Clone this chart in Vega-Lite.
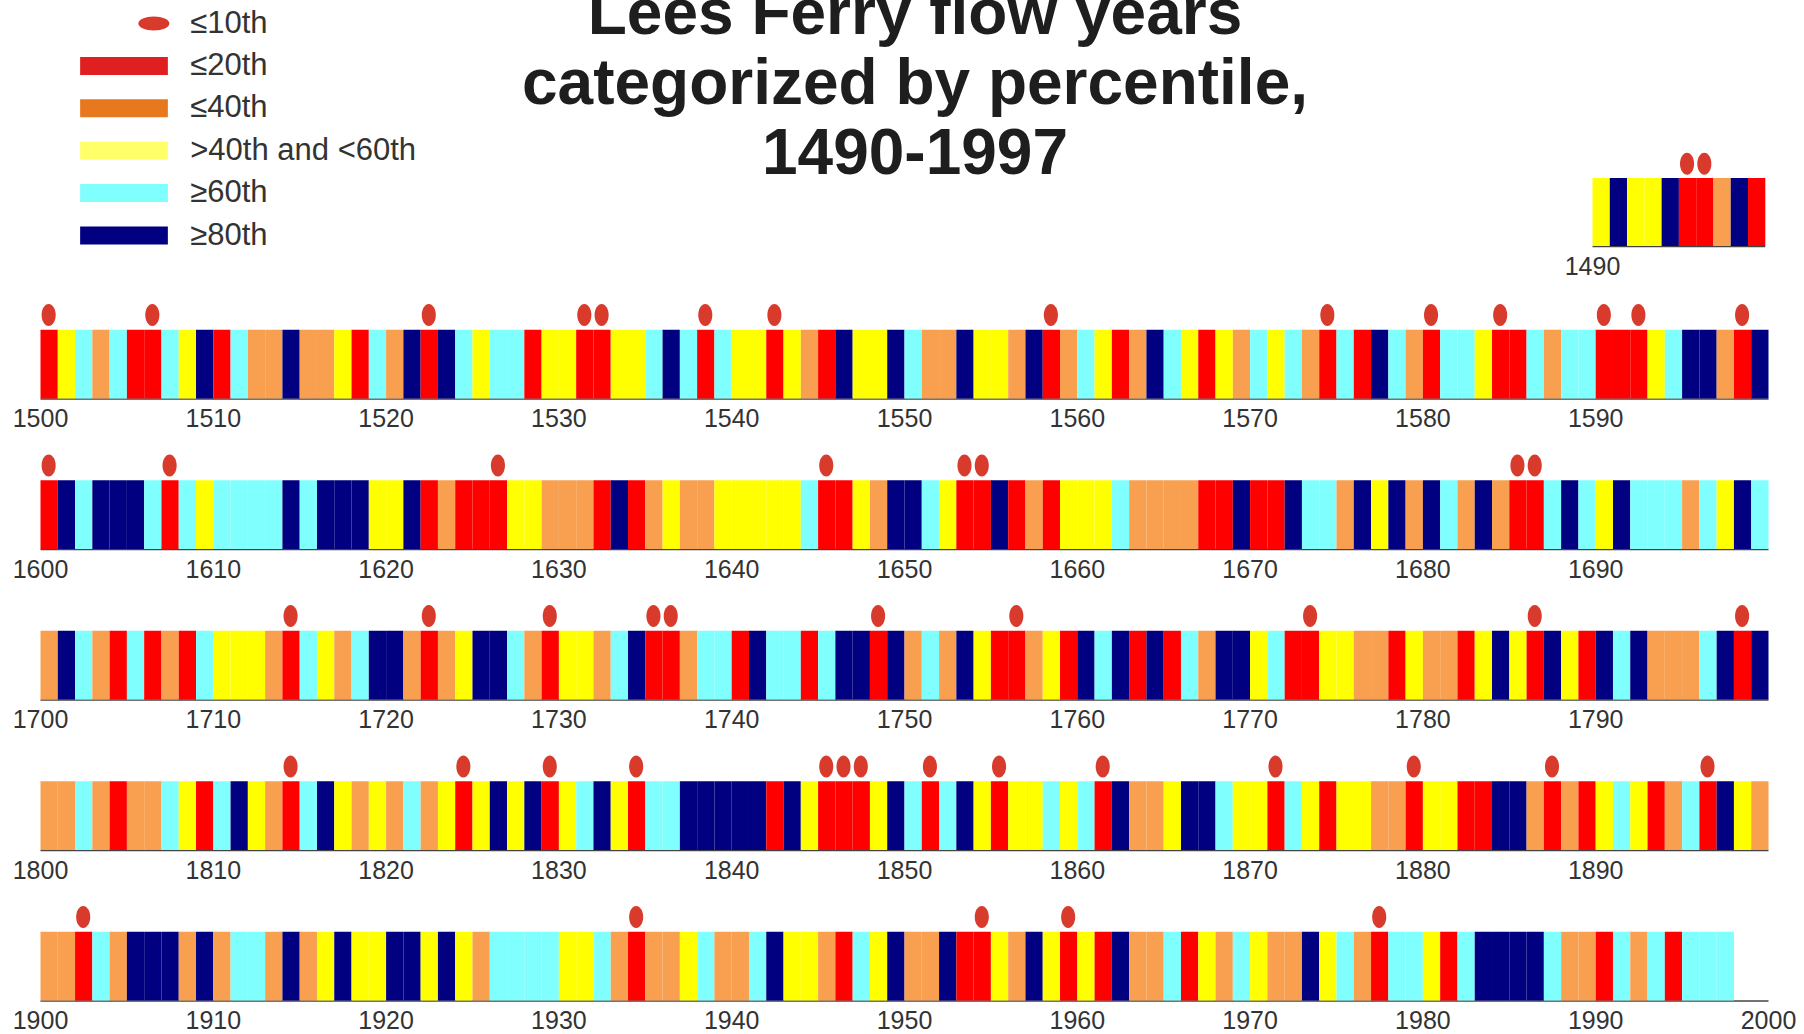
{
  "$schema": "https://vega.github.io/schema/vega-lite/v6.json",
  "padding": {"left": 12, "top": -17, "right": 0, "bottom": 0},
  "background": "white",
  "title": {
    "text": ["Lees Ferry flow years", "categorized by percentile,", "1490-1997"],
    "anchor": "middle",
    "frame": "bounds",
    "offset": -190,
    "dx": 11,
    "font": "Liberation Sans",
    "fontSize": 64,
    "fontWeight": "bold",
    "color": "#1e1e1e",
    "lineHeight": 70
  },
  "config": {
    "view": {"stroke": null},
    "axis": {
      "labelFont": "Liberation Sans",
      "labelFontSize": 25,
      "labelColor": "#333333",
      "domainColor": "#444444",
      "domainWidth": 1.5,
      "ticks": false,
      "grid": false,
      "labelFlush": false,
      "labelOverlap": false,
      "labelPadding": 8
    }
  },
  "datasets": {
    "flows": [
      {"year":1490,"category":">40th and <60th"},{"year":1491,"category":"≥80th"},{"year":1492,"category":">40th and <60th"},{"year":1493,"category":">40th and <60th"},{"year":1494,"category":"≥80th"},{"year":1495,"category":"≤10th"},{"year":1496,"category":"≤10th"},{"year":1497,"category":"≤40th"},{"year":1498,"category":"≥80th"},{"year":1499,"category":"≤20th"},
      {"year":1500,"category":"≤10th"},{"year":1501,"category":">40th and <60th"},{"year":1502,"category":"≥60th"},{"year":1503,"category":"≤40th"},{"year":1504,"category":"≥60th"},{"year":1505,"category":"≤20th"},{"year":1506,"category":"≤10th"},{"year":1507,"category":"≥60th"},{"year":1508,"category":">40th and <60th"},{"year":1509,"category":"≥80th"},
      {"year":1510,"category":"≤20th"},{"year":1511,"category":"≥60th"},{"year":1512,"category":"≤40th"},{"year":1513,"category":"≤40th"},{"year":1514,"category":"≥80th"},{"year":1515,"category":"≤40th"},{"year":1516,"category":"≤40th"},{"year":1517,"category":">40th and <60th"},{"year":1518,"category":"≤20th"},{"year":1519,"category":"≥60th"},
      {"year":1520,"category":"≤40th"},{"year":1521,"category":"≥80th"},{"year":1522,"category":"≤10th"},{"year":1523,"category":"≥80th"},{"year":1524,"category":"≥60th"},{"year":1525,"category":">40th and <60th"},{"year":1526,"category":"≥60th"},{"year":1527,"category":"≥60th"},{"year":1528,"category":"≤20th"},{"year":1529,"category":">40th and <60th"},
      {"year":1530,"category":">40th and <60th"},{"year":1531,"category":"≤10th"},{"year":1532,"category":"≤10th"},{"year":1533,"category":">40th and <60th"},{"year":1534,"category":">40th and <60th"},{"year":1535,"category":"≥60th"},{"year":1536,"category":"≥80th"},{"year":1537,"category":"≥60th"},{"year":1538,"category":"≤10th"},{"year":1539,"category":"≥60th"},
      {"year":1540,"category":">40th and <60th"},{"year":1541,"category":">40th and <60th"},{"year":1542,"category":"≤10th"},{"year":1543,"category":">40th and <60th"},{"year":1544,"category":"≤40th"},{"year":1545,"category":"≤20th"},{"year":1546,"category":"≥80th"},{"year":1547,"category":">40th and <60th"},{"year":1548,"category":">40th and <60th"},{"year":1549,"category":"≥80th"},
      {"year":1550,"category":"≥60th"},{"year":1551,"category":"≤40th"},{"year":1552,"category":"≤40th"},{"year":1553,"category":"≥80th"},{"year":1554,"category":">40th and <60th"},{"year":1555,"category":">40th and <60th"},{"year":1556,"category":"≤40th"},{"year":1557,"category":"≥80th"},{"year":1558,"category":"≤10th"},{"year":1559,"category":"≤40th"},
      {"year":1560,"category":"≥60th"},{"year":1561,"category":">40th and <60th"},{"year":1562,"category":"≤20th"},{"year":1563,"category":"≤40th"},{"year":1564,"category":"≥80th"},{"year":1565,"category":"≥60th"},{"year":1566,"category":">40th and <60th"},{"year":1567,"category":"≤20th"},{"year":1568,"category":">40th and <60th"},{"year":1569,"category":"≤40th"},
      {"year":1570,"category":"≥60th"},{"year":1571,"category":">40th and <60th"},{"year":1572,"category":"≥60th"},{"year":1573,"category":"≤40th"},{"year":1574,"category":"≤10th"},{"year":1575,"category":"≥60th"},{"year":1576,"category":"≤20th"},{"year":1577,"category":"≥80th"},{"year":1578,"category":"≥60th"},{"year":1579,"category":"≤40th"},
      {"year":1580,"category":"≤10th"},{"year":1581,"category":"≥60th"},{"year":1582,"category":"≥60th"},{"year":1583,"category":">40th and <60th"},{"year":1584,"category":"≤10th"},{"year":1585,"category":"≤20th"},{"year":1586,"category":"≥60th"},{"year":1587,"category":"≤40th"},{"year":1588,"category":"≥60th"},{"year":1589,"category":"≥60th"},
      {"year":1590,"category":"≤10th"},{"year":1591,"category":"≤20th"},{"year":1592,"category":"≤10th"},{"year":1593,"category":">40th and <60th"},{"year":1594,"category":"≥60th"},{"year":1595,"category":"≥80th"},{"year":1596,"category":"≥80th"},{"year":1597,"category":"≤40th"},{"year":1598,"category":"≤10th"},{"year":1599,"category":"≥80th"},
      {"year":1600,"category":"≤10th"},{"year":1601,"category":"≥80th"},{"year":1602,"category":"≥60th"},{"year":1603,"category":"≥80th"},{"year":1604,"category":"≥80th"},{"year":1605,"category":"≥80th"},{"year":1606,"category":"≥60th"},{"year":1607,"category":"≤10th"},{"year":1608,"category":"≥60th"},{"year":1609,"category":">40th and <60th"},
      {"year":1610,"category":"≥60th"},{"year":1611,"category":"≥60th"},{"year":1612,"category":"≥60th"},{"year":1613,"category":"≥60th"},{"year":1614,"category":"≥80th"},{"year":1615,"category":"≥60th"},{"year":1616,"category":"≥80th"},{"year":1617,"category":"≥80th"},{"year":1618,"category":"≥80th"},{"year":1619,"category":">40th and <60th"},
      {"year":1620,"category":">40th and <60th"},{"year":1621,"category":"≥80th"},{"year":1622,"category":"≤20th"},{"year":1623,"category":"≤40th"},{"year":1624,"category":"≤20th"},{"year":1625,"category":"≤20th"},{"year":1626,"category":"≤10th"},{"year":1627,"category":">40th and <60th"},{"year":1628,"category":">40th and <60th"},{"year":1629,"category":"≤40th"},
      {"year":1630,"category":"≤40th"},{"year":1631,"category":"≤40th"},{"year":1632,"category":"≤20th"},{"year":1633,"category":"≥80th"},{"year":1634,"category":"≤20th"},{"year":1635,"category":"≤40th"},{"year":1636,"category":">40th and <60th"},{"year":1637,"category":"≤40th"},{"year":1638,"category":"≤40th"},{"year":1639,"category":">40th and <60th"},
      {"year":1640,"category":">40th and <60th"},{"year":1641,"category":">40th and <60th"},{"year":1642,"category":">40th and <60th"},{"year":1643,"category":">40th and <60th"},{"year":1644,"category":"≥60th"},{"year":1645,"category":"≤10th"},{"year":1646,"category":"≤20th"},{"year":1647,"category":">40th and <60th"},{"year":1648,"category":"≤40th"},{"year":1649,"category":"≥80th"},
      {"year":1650,"category":"≥80th"},{"year":1651,"category":"≥60th"},{"year":1652,"category":">40th and <60th"},{"year":1653,"category":"≤10th"},{"year":1654,"category":"≤10th"},{"year":1655,"category":"≥80th"},{"year":1656,"category":"≤20th"},{"year":1657,"category":"≤40th"},{"year":1658,"category":"≤20th"},{"year":1659,"category":">40th and <60th"},
      {"year":1660,"category":">40th and <60th"},{"year":1661,"category":">40th and <60th"},{"year":1662,"category":"≥60th"},{"year":1663,"category":"≤40th"},{"year":1664,"category":"≤40th"},{"year":1665,"category":"≤40th"},{"year":1666,"category":"≤40th"},{"year":1667,"category":"≤20th"},{"year":1668,"category":"≤20th"},{"year":1669,"category":"≥80th"},
      {"year":1670,"category":"≤20th"},{"year":1671,"category":"≤20th"},{"year":1672,"category":"≥80th"},{"year":1673,"category":"≥60th"},{"year":1674,"category":"≥60th"},{"year":1675,"category":"≤40th"},{"year":1676,"category":"≥80th"},{"year":1677,"category":">40th and <60th"},{"year":1678,"category":"≥80th"},{"year":1679,"category":"≤40th"},
      {"year":1680,"category":"≥80th"},{"year":1681,"category":"≥60th"},{"year":1682,"category":"≤40th"},{"year":1683,"category":"≥80th"},{"year":1684,"category":"≤40th"},{"year":1685,"category":"≤10th"},{"year":1686,"category":"≤10th"},{"year":1687,"category":"≥60th"},{"year":1688,"category":"≥80th"},{"year":1689,"category":"≥60th"},
      {"year":1690,"category":">40th and <60th"},{"year":1691,"category":"≥80th"},{"year":1692,"category":"≥60th"},{"year":1693,"category":"≥60th"},{"year":1694,"category":"≥60th"},{"year":1695,"category":"≤40th"},{"year":1696,"category":"≥60th"},{"year":1697,"category":">40th and <60th"},{"year":1698,"category":"≥80th"},{"year":1699,"category":"≥60th"},
      {"year":1700,"category":"≤40th"},{"year":1701,"category":"≥80th"},{"year":1702,"category":"≥60th"},{"year":1703,"category":"≤40th"},{"year":1704,"category":"≤20th"},{"year":1705,"category":"≥60th"},{"year":1706,"category":"≤20th"},{"year":1707,"category":"≤40th"},{"year":1708,"category":"≤20th"},{"year":1709,"category":"≥60th"},
      {"year":1710,"category":">40th and <60th"},{"year":1711,"category":">40th and <60th"},{"year":1712,"category":">40th and <60th"},{"year":1713,"category":"≤40th"},{"year":1714,"category":"≤10th"},{"year":1715,"category":"≥60th"},{"year":1716,"category":">40th and <60th"},{"year":1717,"category":"≤40th"},{"year":1718,"category":"≥60th"},{"year":1719,"category":"≥80th"},
      {"year":1720,"category":"≥80th"},{"year":1721,"category":"≤40th"},{"year":1722,"category":"≤10th"},{"year":1723,"category":"≤40th"},{"year":1724,"category":">40th and <60th"},{"year":1725,"category":"≥80th"},{"year":1726,"category":"≥80th"},{"year":1727,"category":"≥60th"},{"year":1728,"category":"≤40th"},{"year":1729,"category":"≤10th"},
      {"year":1730,"category":">40th and <60th"},{"year":1731,"category":">40th and <60th"},{"year":1732,"category":"≤40th"},{"year":1733,"category":"≥60th"},{"year":1734,"category":"≥80th"},{"year":1735,"category":"≤10th"},{"year":1736,"category":"≤10th"},{"year":1737,"category":"≤40th"},{"year":1738,"category":"≥60th"},{"year":1739,"category":"≥60th"},
      {"year":1740,"category":"≤20th"},{"year":1741,"category":"≥80th"},{"year":1742,"category":"≥60th"},{"year":1743,"category":"≥60th"},{"year":1744,"category":"≤20th"},{"year":1745,"category":"≥60th"},{"year":1746,"category":"≥80th"},{"year":1747,"category":"≥80th"},{"year":1748,"category":"≤10th"},{"year":1749,"category":"≥80th"},
      {"year":1750,"category":"≤40th"},{"year":1751,"category":"≥60th"},{"year":1752,"category":"≤40th"},{"year":1753,"category":"≥80th"},{"year":1754,"category":">40th and <60th"},{"year":1755,"category":"≤20th"},{"year":1756,"category":"≤10th"},{"year":1757,"category":"≤40th"},{"year":1758,"category":">40th and <60th"},{"year":1759,"category":"≤20th"},
      {"year":1760,"category":"≥80th"},{"year":1761,"category":"≥60th"},{"year":1762,"category":"≥80th"},{"year":1763,"category":"≤20th"},{"year":1764,"category":"≥80th"},{"year":1765,"category":"≤20th"},{"year":1766,"category":"≥60th"},{"year":1767,"category":"≤40th"},{"year":1768,"category":"≥80th"},{"year":1769,"category":"≥80th"},
      {"year":1770,"category":">40th and <60th"},{"year":1771,"category":"≥60th"},{"year":1772,"category":"≤20th"},{"year":1773,"category":"≤10th"},{"year":1774,"category":">40th and <60th"},{"year":1775,"category":">40th and <60th"},{"year":1776,"category":"≤40th"},{"year":1777,"category":"≤40th"},{"year":1778,"category":"≤20th"},{"year":1779,"category":">40th and <60th"},
      {"year":1780,"category":"≤40th"},{"year":1781,"category":"≤40th"},{"year":1782,"category":"≤20th"},{"year":1783,"category":">40th and <60th"},{"year":1784,"category":"≥80th"},{"year":1785,"category":">40th and <60th"},{"year":1786,"category":"≤10th"},{"year":1787,"category":"≥80th"},{"year":1788,"category":">40th and <60th"},{"year":1789,"category":"≤20th"},
      {"year":1790,"category":"≥80th"},{"year":1791,"category":"≥60th"},{"year":1792,"category":"≥80th"},{"year":1793,"category":"≤40th"},{"year":1794,"category":"≤40th"},{"year":1795,"category":"≤40th"},{"year":1796,"category":"≥60th"},{"year":1797,"category":"≥80th"},{"year":1798,"category":"≤10th"},{"year":1799,"category":"≥80th"},
      {"year":1800,"category":"≤40th"},{"year":1801,"category":"≤40th"},{"year":1802,"category":"≥60th"},{"year":1803,"category":"≤40th"},{"year":1804,"category":"≤20th"},{"year":1805,"category":"≤40th"},{"year":1806,"category":"≤40th"},{"year":1807,"category":"≥60th"},{"year":1808,"category":">40th and <60th"},{"year":1809,"category":"≤20th"},
      {"year":1810,"category":"≥60th"},{"year":1811,"category":"≥80th"},{"year":1812,"category":">40th and <60th"},{"year":1813,"category":"≤40th"},{"year":1814,"category":"≤10th"},{"year":1815,"category":"≥60th"},{"year":1816,"category":"≥80th"},{"year":1817,"category":">40th and <60th"},{"year":1818,"category":"≤40th"},{"year":1819,"category":">40th and <60th"},
      {"year":1820,"category":"≤40th"},{"year":1821,"category":"≥60th"},{"year":1822,"category":"≤40th"},{"year":1823,"category":">40th and <60th"},{"year":1824,"category":"≤10th"},{"year":1825,"category":">40th and <60th"},{"year":1826,"category":"≥80th"},{"year":1827,"category":">40th and <60th"},{"year":1828,"category":"≥80th"},{"year":1829,"category":"≤10th"},
      {"year":1830,"category":">40th and <60th"},{"year":1831,"category":"≥60th"},{"year":1832,"category":"≥80th"},{"year":1833,"category":">40th and <60th"},{"year":1834,"category":"≤10th"},{"year":1835,"category":"≥60th"},{"year":1836,"category":"≥60th"},{"year":1837,"category":"≥80th"},{"year":1838,"category":"≥80th"},{"year":1839,"category":"≥80th"},
      {"year":1840,"category":"≥80th"},{"year":1841,"category":"≥80th"},{"year":1842,"category":"≤20th"},{"year":1843,"category":"≥80th"},{"year":1844,"category":">40th and <60th"},{"year":1845,"category":"≤10th"},{"year":1846,"category":"≤10th"},{"year":1847,"category":"≤10th"},{"year":1848,"category":">40th and <60th"},{"year":1849,"category":"≥80th"},
      {"year":1850,"category":"≥60th"},{"year":1851,"category":"≤10th"},{"year":1852,"category":"≥60th"},{"year":1853,"category":"≥80th"},{"year":1854,"category":">40th and <60th"},{"year":1855,"category":"≤10th"},{"year":1856,"category":">40th and <60th"},{"year":1857,"category":">40th and <60th"},{"year":1858,"category":"≥60th"},{"year":1859,"category":">40th and <60th"},
      {"year":1860,"category":"≥60th"},{"year":1861,"category":"≤10th"},{"year":1862,"category":"≥80th"},{"year":1863,"category":"≤40th"},{"year":1864,"category":"≤40th"},{"year":1865,"category":">40th and <60th"},{"year":1866,"category":"≥80th"},{"year":1867,"category":"≥80th"},{"year":1868,"category":"≥60th"},{"year":1869,"category":">40th and <60th"},
      {"year":1870,"category":">40th and <60th"},{"year":1871,"category":"≤10th"},{"year":1872,"category":"≥60th"},{"year":1873,"category":">40th and <60th"},{"year":1874,"category":"≤20th"},{"year":1875,"category":">40th and <60th"},{"year":1876,"category":">40th and <60th"},{"year":1877,"category":"≤40th"},{"year":1878,"category":"≤40th"},{"year":1879,"category":"≤10th"},
      {"year":1880,"category":">40th and <60th"},{"year":1881,"category":">40th and <60th"},{"year":1882,"category":"≤20th"},{"year":1883,"category":"≤20th"},{"year":1884,"category":"≥80th"},{"year":1885,"category":"≥80th"},{"year":1886,"category":"≤40th"},{"year":1887,"category":"≤10th"},{"year":1888,"category":"≤40th"},{"year":1889,"category":"≤20th"},
      {"year":1890,"category":">40th and <60th"},{"year":1891,"category":"≥60th"},{"year":1892,"category":">40th and <60th"},{"year":1893,"category":"≤20th"},{"year":1894,"category":"≤40th"},{"year":1895,"category":"≥60th"},{"year":1896,"category":"≤10th"},{"year":1897,"category":"≥80th"},{"year":1898,"category":">40th and <60th"},{"year":1899,"category":"≤40th"},
      {"year":1900,"category":"≤40th"},{"year":1901,"category":"≤40th"},{"year":1902,"category":"≤10th"},{"year":1903,"category":"≥60th"},{"year":1904,"category":"≤40th"},{"year":1905,"category":"≥80th"},{"year":1906,"category":"≥80th"},{"year":1907,"category":"≥80th"},{"year":1908,"category":"≤40th"},{"year":1909,"category":"≥80th"},
      {"year":1910,"category":"≤40th"},{"year":1911,"category":"≥60th"},{"year":1912,"category":"≥60th"},{"year":1913,"category":"≤40th"},{"year":1914,"category":"≥80th"},{"year":1915,"category":"≤40th"},{"year":1916,"category":">40th and <60th"},{"year":1917,"category":"≥80th"},{"year":1918,"category":">40th and <60th"},{"year":1919,"category":">40th and <60th"},
      {"year":1920,"category":"≥80th"},{"year":1921,"category":"≥80th"},{"year":1922,"category":">40th and <60th"},{"year":1923,"category":"≥80th"},{"year":1924,"category":">40th and <60th"},{"year":1925,"category":"≤40th"},{"year":1926,"category":"≥60th"},{"year":1927,"category":"≥60th"},{"year":1928,"category":"≥60th"},{"year":1929,"category":"≥60th"},
      {"year":1930,"category":">40th and <60th"},{"year":1931,"category":">40th and <60th"},{"year":1932,"category":"≥60th"},{"year":1933,"category":"≤40th"},{"year":1934,"category":"≤10th"},{"year":1935,"category":"≤40th"},{"year":1936,"category":"≤40th"},{"year":1937,"category":">40th and <60th"},{"year":1938,"category":"≥60th"},{"year":1939,"category":"≤40th"},
      {"year":1940,"category":"≤40th"},{"year":1941,"category":"≥60th"},{"year":1942,"category":"≥80th"},{"year":1943,"category":">40th and <60th"},{"year":1944,"category":">40th and <60th"},{"year":1945,"category":"≤40th"},{"year":1946,"category":"≤20th"},{"year":1947,"category":"≥60th"},{"year":1948,"category":">40th and <60th"},{"year":1949,"category":"≥80th"},
      {"year":1950,"category":"≤40th"},{"year":1951,"category":"≤40th"},{"year":1952,"category":"≥80th"},{"year":1953,"category":"≤20th"},{"year":1954,"category":"≤10th"},{"year":1955,"category":">40th and <60th"},{"year":1956,"category":"≤40th"},{"year":1957,"category":"≥80th"},{"year":1958,"category":">40th and <60th"},{"year":1959,"category":"≤10th"},
      {"year":1960,"category":">40th and <60th"},{"year":1961,"category":"≤20th"},{"year":1962,"category":"≥80th"},{"year":1963,"category":"≤40th"},{"year":1964,"category":"≤40th"},{"year":1965,"category":"≥60th"},{"year":1966,"category":"≤20th"},{"year":1967,"category":">40th and <60th"},{"year":1968,"category":"≤40th"},{"year":1969,"category":"≥60th"},
      {"year":1970,"category":">40th and <60th"},{"year":1971,"category":"≤40th"},{"year":1972,"category":"≤40th"},{"year":1973,"category":"≥80th"},{"year":1974,"category":">40th and <60th"},{"year":1975,"category":"≥60th"},{"year":1976,"category":"≤40th"},{"year":1977,"category":"≤10th"},{"year":1978,"category":"≥60th"},{"year":1979,"category":"≥60th"},
      {"year":1980,"category":">40th and <60th"},{"year":1981,"category":"≤20th"},{"year":1982,"category":"≥60th"},{"year":1983,"category":"≥80th"},{"year":1984,"category":"≥80th"},{"year":1985,"category":"≥80th"},{"year":1986,"category":"≥80th"},{"year":1987,"category":"≥60th"},{"year":1988,"category":"≤40th"},{"year":1989,"category":"≤40th"},
      {"year":1990,"category":"≤20th"},{"year":1991,"category":"≥60th"},{"year":1992,"category":"≤40th"},{"year":1993,"category":"≥60th"},{"year":1994,"category":"≤20th"},{"year":1995,"category":"≥60th"},{"year":1996,"category":"≥60th"},{"year":1997,"category":"≥60th"}
    ]
  },
  "data": {"name": "flows"},
  "resolve": {"scale": {"color": "independent"}},
  "spacing": 20.5,
  "vconcat": [
    {
      "spacing": 1104,
      "resolve": {"scale": {"color": "independent"}},
      "hconcat": [
        {
          "width": 420,
          "height": 284,
          "transform": [{"aggregate": [{"op": "count", "as": "n"}], "groupby": ["category"]}],
          "encoding": {
            "y": {"field": "category", "type": "nominal", "scale": {"domain": ["≤10th", "≤20th", "≤40th", ">40th and <60th", "≥60th", "≥80th"], "range": [5.3, 259.7]}, "axis": null}
          },
          "layer": [
            {
              "transform": [{"filter": "datum.category !== '≤10th'"}],
              "mark": {"type": "rule", "strokeWidth": 18, "strokeCap": "butt"},
              "encoding": {
                "x": {"datum": 43, "type": "quantitative", "scale": {"domain": [0, 420]}, "axis": null},
                "x2": {"datum": 137},
                "color": {"field": "category", "type": "nominal", "scale": {"domain": ["≤10th", "≤20th", "≤40th", ">40th and <60th", "≥60th", "≥80th"], "range": ["#e02020", "#e02020", "#e8781e", "#ffff6a", "#80ffff", "#000080"]}, "legend": null}
              }
            },
            {
              "transform": [{"filter": "datum.category === '≤10th'"}],
              "mark": {"type": "point", "shape": "M-1,0A1,0.45 0 1,0 1,0A1,0.45 0 1,0 -1,0Z", "filled": true, "size": 961, "color": "#d83a2c", "opacity": 1},
              "encoding": {"x": {"datum": 122, "type": "quantitative"}}
            },
            {
              "mark": {"type": "text", "align": "left", "baseline": "middle", "font": "Liberation Sans", "fontSize": 31, "color": "#333333"},
              "encoding": {"x": {"datum": 161, "type": "quantitative"}, "text": {"field": "category"}}
            }
          ]
        },
        {
          "width": 172.8,
          "height": 249,
          "transform": [{"filter": "datum.year >= 1490 && datum.year < 1500"}],
          "layer": [
            {
              "mark": {"type": "bar", "binSpacing": 0},
              "encoding": {
                "x": {"field": "year", "type": "quantitative", "bin": {"step": 1, "extent": [1490, 1500]}, "scale": {"domain": [1490, 1500]}, "title": null, "axis": {"values": [1490], "format": "d"}},
                "y": {"datum": 0, "type": "quantitative", "scale": {"domain": [0, 249]}, "axis": null},
                "y2": {"datum": 71},
                "color": {"field": "category", "type": "nominal", "scale": {"domain": ["≤10th", "≤20th", "≤40th", ">40th and <60th", "≥60th", "≥80th"], "range": ["#ff0000", "#ff0000", "#f8a050", "#ffff00", "#80ffff", "#000080"]}, "legend": null}
              }
            },
            {
              "transform": [{"filter": "datum.category === '≤10th'"}],
              "mark": {"type": "point", "shape": "M-0.64,0A0.64,1 0 1,0 0.64,0A0.64,1 0 1,0 -0.64,0Z", "filled": true, "size": 484, "color": "#d83a2c", "opacity": 1},
              "encoding": {
                "x": {"field": "year", "type": "quantitative", "bin": {"step": 1, "extent": [1490, 1500]}},
                "y": {"datum": 86, "type": "quantitative"}
              }
            }
          ]
        }
      ]
    },
    {
      "width": 1728,
      "height": 97,
      "transform": [{"filter": "datum.year >= 1500 && datum.year < 1600"}],
      "layer": [
        {
          "mark": {"type": "bar", "binSpacing": 0},
          "encoding": {
            "x": {"field": "year", "type": "quantitative", "bin": {"step": 1, "extent": [1500, 1600]}, "scale": {"domain": [1500, 1600]}, "title": null, "axis": {"values": [1500, 1510, 1520, 1530, 1540, 1550, 1560, 1570, 1580, 1590], "format": "d"}},
            "y": {"datum": 0, "type": "quantitative", "scale": {"domain": [0, 97]}, "axis": null},
            "y2": {"datum": 71},
            "color": {"field": "category", "type": "nominal", "scale": {"domain": ["≤10th", "≤20th", "≤40th", ">40th and <60th", "≥60th", "≥80th"], "range": ["#ff0000", "#ff0000", "#f8a050", "#ffff00", "#80ffff", "#000080"]}, "legend": null}
          }
        },
        {
          "transform": [{"filter": "datum.category === '≤10th'"}],
          "mark": {"type": "point", "shape": "M-0.64,0A0.64,1 0 1,0 0.64,0A0.64,1 0 1,0 -0.64,0Z", "filled": true, "size": 484, "color": "#d83a2c", "opacity": 1},
          "encoding": {
            "x": {"field": "year", "type": "quantitative", "bin": {"step": 1, "extent": [1500, 1600]}},
            "y": {"datum": 86, "type": "quantitative"}
          }
        }
      ]
    },
    {
      "width": 1728,
      "height": 97,
      "transform": [{"filter": "datum.year >= 1600 && datum.year < 1700"}],
      "layer": [
        {
          "mark": {"type": "bar", "binSpacing": 0},
          "encoding": {
            "x": {"field": "year", "type": "quantitative", "bin": {"step": 1, "extent": [1600, 1700]}, "scale": {"domain": [1600, 1700]}, "title": null, "axis": {"values": [1600, 1610, 1620, 1630, 1640, 1650, 1660, 1670, 1680, 1690], "format": "d"}},
            "y": {"datum": 0, "type": "quantitative", "scale": {"domain": [0, 97]}, "axis": null},
            "y2": {"datum": 71},
            "color": {"field": "category", "type": "nominal", "scale": {"domain": ["≤10th", "≤20th", "≤40th", ">40th and <60th", "≥60th", "≥80th"], "range": ["#ff0000", "#ff0000", "#f8a050", "#ffff00", "#80ffff", "#000080"]}, "legend": null}
          }
        },
        {
          "transform": [{"filter": "datum.category === '≤10th'"}],
          "mark": {"type": "point", "shape": "M-0.64,0A0.64,1 0 1,0 0.64,0A0.64,1 0 1,0 -0.64,0Z", "filled": true, "size": 484, "color": "#d83a2c", "opacity": 1},
          "encoding": {
            "x": {"field": "year", "type": "quantitative", "bin": {"step": 1, "extent": [1600, 1700]}},
            "y": {"datum": 86, "type": "quantitative"}
          }
        }
      ]
    },
    {
      "width": 1728,
      "height": 97,
      "transform": [{"filter": "datum.year >= 1700 && datum.year < 1800"}],
      "layer": [
        {
          "mark": {"type": "bar", "binSpacing": 0},
          "encoding": {
            "x": {"field": "year", "type": "quantitative", "bin": {"step": 1, "extent": [1700, 1800]}, "scale": {"domain": [1700, 1800]}, "title": null, "axis": {"values": [1700, 1710, 1720, 1730, 1740, 1750, 1760, 1770, 1780, 1790], "format": "d"}},
            "y": {"datum": 0, "type": "quantitative", "scale": {"domain": [0, 97]}, "axis": null},
            "y2": {"datum": 71},
            "color": {"field": "category", "type": "nominal", "scale": {"domain": ["≤10th", "≤20th", "≤40th", ">40th and <60th", "≥60th", "≥80th"], "range": ["#ff0000", "#ff0000", "#f8a050", "#ffff00", "#80ffff", "#000080"]}, "legend": null}
          }
        },
        {
          "transform": [{"filter": "datum.category === '≤10th'"}],
          "mark": {"type": "point", "shape": "M-0.64,0A0.64,1 0 1,0 0.64,0A0.64,1 0 1,0 -0.64,0Z", "filled": true, "size": 484, "color": "#d83a2c", "opacity": 1},
          "encoding": {
            "x": {"field": "year", "type": "quantitative", "bin": {"step": 1, "extent": [1700, 1800]}},
            "y": {"datum": 86, "type": "quantitative"}
          }
        }
      ]
    },
    {
      "width": 1728,
      "height": 97,
      "transform": [{"filter": "datum.year >= 1800 && datum.year < 1900"}],
      "layer": [
        {
          "mark": {"type": "bar", "binSpacing": 0},
          "encoding": {
            "x": {"field": "year", "type": "quantitative", "bin": {"step": 1, "extent": [1800, 1900]}, "scale": {"domain": [1800, 1900]}, "title": null, "axis": {"values": [1800, 1810, 1820, 1830, 1840, 1850, 1860, 1870, 1880, 1890], "format": "d"}},
            "y": {"datum": 0, "type": "quantitative", "scale": {"domain": [0, 97]}, "axis": null},
            "y2": {"datum": 71},
            "color": {"field": "category", "type": "nominal", "scale": {"domain": ["≤10th", "≤20th", "≤40th", ">40th and <60th", "≥60th", "≥80th"], "range": ["#ff0000", "#ff0000", "#f8a050", "#ffff00", "#80ffff", "#000080"]}, "legend": null}
          }
        },
        {
          "transform": [{"filter": "datum.category === '≤10th'"}],
          "mark": {"type": "point", "shape": "M-0.64,0A0.64,1 0 1,0 0.64,0A0.64,1 0 1,0 -0.64,0Z", "filled": true, "size": 484, "color": "#d83a2c", "opacity": 1},
          "encoding": {
            "x": {"field": "year", "type": "quantitative", "bin": {"step": 1, "extent": [1800, 1900]}},
            "y": {"datum": 86, "type": "quantitative"}
          }
        }
      ]
    },
    {
      "width": 1728,
      "height": 97,
      "transform": [{"filter": "datum.year >= 1900 && datum.year < 2000"}],
      "layer": [
        {
          "mark": {"type": "bar", "binSpacing": 0},
          "encoding": {
            "x": {"field": "year", "type": "quantitative", "bin": {"step": 1, "extent": [1900, 2000]}, "scale": {"domain": [1900, 2000]}, "title": null, "axis": {"values": [1900, 1910, 1920, 1930, 1940, 1950, 1960, 1970, 1980, 1990, 2000], "format": "d"}},
            "y": {"datum": 0, "type": "quantitative", "scale": {"domain": [0, 97]}, "axis": null},
            "y2": {"datum": 71},
            "color": {"field": "category", "type": "nominal", "scale": {"domain": ["≤10th", "≤20th", "≤40th", ">40th and <60th", "≥60th", "≥80th"], "range": ["#ff0000", "#ff0000", "#f8a050", "#ffff00", "#80ffff", "#000080"]}, "legend": null}
          }
        },
        {
          "transform": [{"filter": "datum.category === '≤10th'"}],
          "mark": {"type": "point", "shape": "M-0.64,0A0.64,1 0 1,0 0.64,0A0.64,1 0 1,0 -0.64,0Z", "filled": true, "size": 484, "color": "#d83a2c", "opacity": 1},
          "encoding": {
            "x": {"field": "year", "type": "quantitative", "bin": {"step": 1, "extent": [1900, 2000]}},
            "y": {"datum": 86, "type": "quantitative"}
          }
        }
      ]
    }
  ]
}
